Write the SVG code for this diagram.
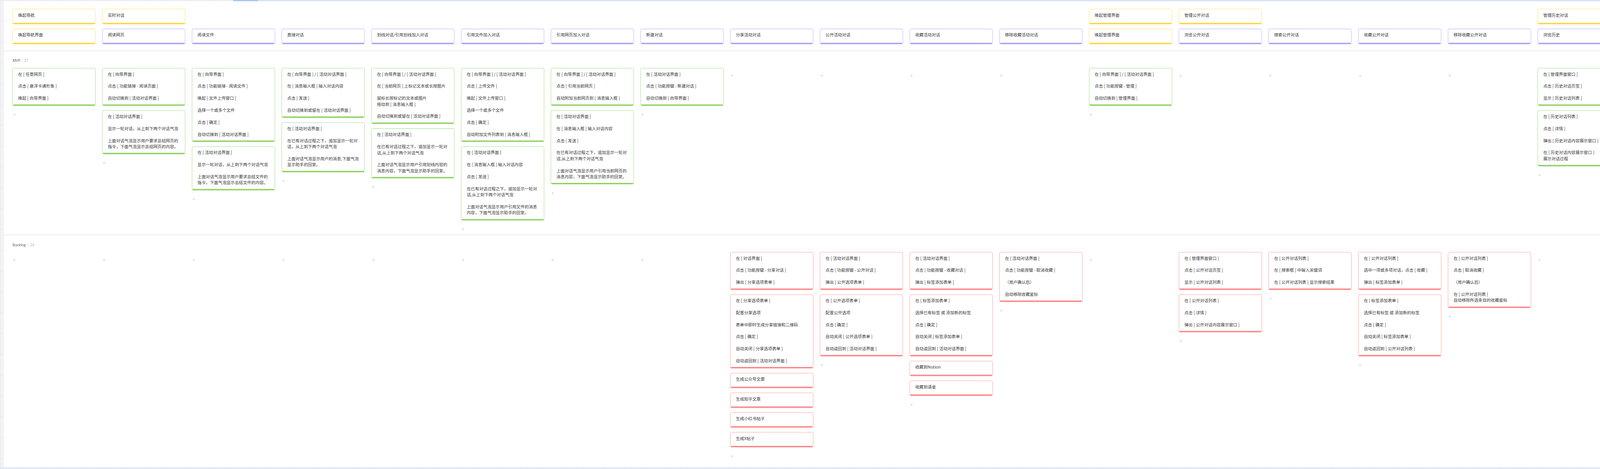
<svg xmlns="http://www.w3.org/2000/svg" width="6498" height="1200" viewBox="0 0 6498 1200">
<defs>
<style>
.cd rect{fill:#fff;stroke-width:1.3}
.cd line{stroke-width:3;stroke-linecap:round}
.y rect{stroke:#ffe78a}.y line{stroke:#ffd23a}
.p rect{stroke:#cbc4ff}.p line{stroke:#a89ef7}
.g rect{stroke:#b9e4a3}.g line{stroke:#8bd15c}
.r rect{stroke:#ffb4b4}.r line{stroke:#ff8282}
text{font-family:"Noto Sans CJK SC","Noto Sans",sans-serif;font-size:10.6px;fill:#3b3b3b}
.lab{font-family:"Open Sans","Noto Sans",sans-serif;font-size:9.5px;fill:#555}
.cnt{font-family:"Open Sans","Noto Sans",sans-serif;font-size:9.5px;fill:#aaa}
.sep{stroke:#ebebeb;stroke-width:2}
</style>
<pattern id="grid" width="53.3" height="53.3" patternUnits="userSpaceOnUse">
<path d="M0 0.5H53.3M0.5 0V53.3" fill="none" stroke="#e4e6e9" stroke-width="1"/>
</pattern>
<symbol id="plus" overflow="visible"><path d="M-3.5 0H3.5M0 -3.5V3.5" stroke="#cdcdcd" stroke-width="1" fill="none"/></symbol>
</defs>
<rect width="6498" height="1200" fill="#f2f3f5"/>
<rect width="6498" height="1200" fill="url(#grid)"/>
<rect x="10" y="3" width="6454" height="1193" fill="#fff"/>
<rect x="597" y="0.8" width="64" height="2" fill="#8db4f4"/>
<rect x="661" y="0.8" width="5803" height="2" fill="#cfdffb"/>
<line x1="6465" y1="0" x2="6465" y2="1200" stroke="#d3dcea" stroke-width="1.2"/>
<rect x="0" y="1196" width="6498" height="2.5" fill="#d5e3fb"/>
<line class="sep" x1="10" y1="130" x2="6464" y2="130"/>
<line class="sep" x1="10" y1="601" x2="6464" y2="601"/>
<line x1="4519" y1="998" x2="6498" y2="998" stroke="#3b82f6" stroke-width="2.5"/>

<g id="lane-mvp">
<text class="lab" x="32.3" y="157.5">MVP</text><line x1="56.5" y1="149" x2="56.5" y2="160" stroke="#ddd"/><text class="cnt" x="61.5" y="157.5">27</text>
</g>
<g id="lane-backlog">
<text class="lab" x="32" y="629.5">Backlog</text><line x1="72" y1="621" x2="72" y2="632" stroke="#ddd"/><text class="cnt" x="77" y="629.5">24</text>
</g>

<g id="connectors"></g>

<g id="h1-0" class="cd y" transform="translate(32.3,23.2)"><rect width="212" height="38.5" rx="4"/><line x1="2.5" x2="209.5" y1="36.9" y2="36.9"/><text x="14" y="19.4">唤起导航</text></g>
<g id="h1-1" class="cd y" transform="translate(262,23.2)"><rect width="212" height="38.5" rx="4"/><line x1="2.5" x2="209.5" y1="36.9" y2="36.9"/><text x="14" y="19.4">实时对话</text></g>
<g id="h1-12" class="cd y" transform="translate(2788.3,23.2)"><rect width="212" height="38.5" rx="4"/><line x1="2.5" x2="209.5" y1="36.9" y2="36.9"/><text x="14" y="19.4">唤起管理界面</text></g>
<g id="h1-13" class="cd y" transform="translate(3018,23.2)"><rect width="212" height="38.5" rx="4"/><line x1="2.5" x2="209.5" y1="36.9" y2="36.9"/><text x="14" y="19.4">管理公开对话</text></g>
<g id="h1-17" class="cd y" transform="translate(3936.7,23.2)"><rect width="212" height="38.5" rx="4"/><line x1="2.5" x2="209.5" y1="36.9" y2="36.9"/><text x="14" y="19.4">管理历史对话</text></g>
<g id="h1-23" class="cd y" transform="translate(5314.7,23.2)"><rect width="212" height="38.5" rx="4"/><line x1="2.5" x2="209.5" y1="36.9" y2="36.9"/><text x="14" y="19.4">管理收藏对话</text></g>
<g id="h1-26" class="cd y" transform="translate(6003.7,23.2)"><rect width="212" height="38.5" rx="4"/><line x1="2.5" x2="209.5" y1="36.9" y2="36.9"/><text x="14" y="19.4">管理选项配置</text></g>

<g id="h2-0" class="cd y" transform="translate(32.3,74)"><rect width="212" height="38.5" rx="4"/><line x1="2.5" x2="209.5" y1="36.9" y2="36.9"/><text x="14" y="19.3">唤起导航界面</text></g>
<g id="h2-1" class="cd p" transform="translate(262,74)"><rect width="212" height="38.5" rx="4"/><line x1="2.5" x2="209.5" y1="36.9" y2="36.9"/><text x="14" y="19.3">阅读网页</text></g>
<g id="h2-2" class="cd p" transform="translate(491.6,74)"><rect width="212" height="38.5" rx="4"/><line x1="2.5" x2="209.5" y1="36.9" y2="36.9"/><text x="14" y="19.3">阅读文件</text></g>
<g id="h2-3" class="cd p" transform="translate(721.3,74)"><rect width="212" height="38.5" rx="4"/><line x1="2.5" x2="209.5" y1="36.9" y2="36.9"/><text x="14" y="19.3">直接对话</text></g>
<g id="h2-4" class="cd p" transform="translate(951,74)"><rect width="212" height="38.5" rx="4"/><line x1="2.5" x2="209.5" y1="36.9" y2="36.9"/><text x="14" y="19.3">划线对话/引用划线加入对话</text></g>
<g id="h2-5" class="cd p" transform="translate(1180.7,74)"><rect width="212" height="38.5" rx="4"/><line x1="2.5" x2="209.5" y1="36.9" y2="36.9"/><text x="14" y="19.3">引用文件加入对话</text></g>
<g id="h2-6" class="cd p" transform="translate(1410.3,74)"><rect width="212" height="38.5" rx="4"/><line x1="2.5" x2="209.5" y1="36.9" y2="36.9"/><text x="14" y="19.3">引用网页加入对话</text></g>
<g id="h2-7" class="cd p" transform="translate(1640,74)"><rect width="212" height="38.5" rx="4"/><line x1="2.5" x2="209.5" y1="36.9" y2="36.9"/><text x="14" y="19.3">新建对话</text></g>
<g id="h2-8" class="cd p" transform="translate(1869.7,74)"><rect width="212" height="38.5" rx="4"/><line x1="2.5" x2="209.5" y1="36.9" y2="36.9"/><text x="14" y="19.3">分享活动对话</text></g>
<g id="h2-9" class="cd p" transform="translate(2099.3,74)"><rect width="212" height="38.5" rx="4"/><line x1="2.5" x2="209.5" y1="36.9" y2="36.9"/><text x="14" y="19.3">公开活动对话</text></g>
<g id="h2-10" class="cd p" transform="translate(2329,74)"><rect width="212" height="38.5" rx="4"/><line x1="2.5" x2="209.5" y1="36.9" y2="36.9"/><text x="14" y="19.3">收藏活动对话</text></g>
<g id="h2-11" class="cd p" transform="translate(2558.7,74)"><rect width="212" height="38.5" rx="4"/><line x1="2.5" x2="209.5" y1="36.9" y2="36.9"/><text x="14" y="19.3">移除收藏活动对话</text></g>
<g id="h2-12" class="cd y" transform="translate(2788.3,74)"><rect width="212" height="38.5" rx="4"/><line x1="2.5" x2="209.5" y1="36.9" y2="36.9"/><text x="14" y="19.3">唤起管理界面</text></g>
<g id="h2-13" class="cd p" transform="translate(3018,74)"><rect width="212" height="38.5" rx="4"/><line x1="2.5" x2="209.5" y1="36.9" y2="36.9"/><text x="14" y="19.3">浏览公开对话</text></g>
<g id="h2-14" class="cd p" transform="translate(3247.7,74)"><rect width="212" height="38.5" rx="4"/><line x1="2.5" x2="209.5" y1="36.9" y2="36.9"/><text x="14" y="19.3">搜索公开对话</text></g>
<g id="h2-15" class="cd p" transform="translate(3477.4,74)"><rect width="212" height="38.5" rx="4"/><line x1="2.5" x2="209.5" y1="36.9" y2="36.9"/><text x="14" y="19.3">收藏公开对话</text></g>
<g id="h2-16" class="cd p" transform="translate(3707,74)"><rect width="212" height="38.5" rx="4"/><line x1="2.5" x2="209.5" y1="36.9" y2="36.9"/><text x="14" y="19.3">移除收藏公开对话</text></g>
<g id="h2-17" class="cd p" transform="translate(3936.7,74)"><rect width="212" height="38.5" rx="4"/><line x1="2.5" x2="209.5" y1="36.9" y2="36.9"/><text x="14" y="19.3">浏览历史</text></g>
<g id="h2-18" class="cd p" transform="translate(4166.4,74)"><rect width="212" height="38.5" rx="4"/><line x1="2.5" x2="209.5" y1="36.9" y2="36.9"/><text x="14" y="19.3">回忆历史</text></g>
<g id="h2-19" class="cd p" transform="translate(4396,74)"><rect width="212" height="38.5" rx="4"/><line x1="2.5" x2="209.5" y1="36.9" y2="36.9"/><text x="14" y="19.3">删除历史</text></g>
<g id="h2-20" class="cd p" transform="translate(4625.7,74)"><rect width="212" height="38.5" rx="4"/><line x1="2.5" x2="209.5" y1="36.9" y2="36.9"/><text x="14" y="19.3">收藏对话</text></g>
<g id="h2-21" class="cd p" transform="translate(4855.4,74)"><rect width="212" height="38.5" rx="4"/><line x1="2.5" x2="209.5" y1="36.9" y2="36.9"/><text x="14" y="19.3">移除收藏历史对话</text></g>
<g id="h2-22" class="cd p" transform="translate(5085,74)"><rect width="212" height="38.5" rx="4"/><line x1="2.5" x2="209.5" y1="36.9" y2="36.9"/><text x="14" y="19.3">继续对话</text></g>
<g id="h2-23" class="cd p" transform="translate(5314.7,74)"><rect width="212" height="38.5" rx="4"/><line x1="2.5" x2="209.5" y1="36.9" y2="36.9"/><text x="14" y="19.3">查看收藏</text></g>
<g id="h2-24" class="cd p" transform="translate(5544.4,74)"><rect width="212" height="38.5" rx="4"/><line x1="2.5" x2="209.5" y1="36.9" y2="36.9"/><text x="14" y="19.3">搜索收藏</text></g>
<g id="h2-25" class="cd p" transform="translate(5774.1,74)"><rect width="212" height="38.5" rx="4"/><line x1="2.5" x2="209.5" y1="36.9" y2="36.9"/><text x="14" y="19.3">移除收藏</text></g>
<g id="h2-26" class="cd p" transform="translate(6003.7,74)"><rect width="212" height="38.5" rx="4"/><line x1="2.5" x2="209.5" y1="36.9" y2="36.9"/><text x="14" y="19.3">查看配置</text></g>
<g id="h2-27" class="cd p" transform="translate(6233.4,74)"><rect width="212" height="38.5" rx="4"/><line x1="2.5" x2="209.5" y1="36.9" y2="36.9"/><text x="14" y="19.3">修改配置</text></g>

<g id="c0a" class="cd g" transform="translate(32.3,174.3)"><rect width="212" height="96" rx="4"/><line x1="2.5" x2="209.5" y1="94.4" y2="94.4"/><text><tspan x="14" y="19.3">在 [ 任意网页 ]</tspan><tspan x="14" y="50.1">点击 [ 悬浮卡通形象 ]</tspan><tspan x="14" y="80.9">唤起 [ 向导界面 ]</tspan></text></g>
<g id="c1a" class="cd g" transform="translate(262,174.3)"><rect width="212" height="96" rx="4"/><line x1="2.5" x2="209.5" y1="94.4" y2="94.4"/><text><tspan x="14" y="19.3">在 [ 向导界面 ]</tspan><tspan x="14" y="50.1">点击 [ 功能链接 - 阅读页面 ]</tspan><tspan x="14" y="80.9">自动切换到 [ 活动对话界面 ]</tspan></text></g>
<g id="c1b" class="cd g" transform="translate(262,282.8)"><rect width="212" height="111.4" rx="4"/><line x1="2.5" x2="209.5" y1="109.8" y2="109.8"/><text><tspan x="14" y="19.3">在 [ 活动对话界面 ]</tspan><tspan x="14" y="50.1">显示一轮对话，从上到下两个对话气泡</tspan><tspan x="14" y="80.9">上面对话气泡显示用户要求总结网页的</tspan><tspan x="14" y="96.3">指令，下面气泡显示总结网页的内容。</tspan></text></g>
<g id="c2a" class="cd g" transform="translate(491.6,174.3)"><rect width="212" height="188.4" rx="4"/><line x1="2.5" x2="209.5" y1="186.8" y2="186.8"/><text><tspan x="14" y="19.3">在 [ 向导界面 ]</tspan><tspan x="14" y="50.1">点击 [ 功能链接 - 阅读文件 ]</tspan><tspan x="14" y="80.9">唤起 [ 文件上传窗口 ]</tspan><tspan x="14" y="111.7">选择一个或多个文件</tspan><tspan x="14" y="142.5">点击 [ 确定 ]</tspan><tspan x="14" y="173.3">自动切换到 [ 活动对话界面 ]</tspan></text></g>
<g id="c2b" class="cd g" transform="translate(491.6,375.2)"><rect width="212" height="111.4" rx="4"/><line x1="2.5" x2="209.5" y1="109.8" y2="109.8"/><text><tspan x="14" y="19.3">在 [ 活动对话界面 ]</tspan><tspan x="14" y="50.1">显示一轮对话，从上到下两个对话气泡</tspan><tspan x="14" y="80.9">上面对话气泡显示用户要求总结文件的</tspan><tspan x="14" y="96.3">指令，下面气泡显示总结文件的内容。</tspan></text></g>
<g id="c3a" class="cd g" transform="translate(721.3,174.3)"><rect width="212" height="126.8" rx="4"/><line x1="2.5" x2="209.5" y1="125.2" y2="125.2"/><text><tspan x="14" y="19.3">在 [ 向导界面 ] / [ 活动对话界面 ]</tspan><tspan x="14" y="50.1">在 [ 消息输入框 ] 输入对话内容</tspan><tspan x="14" y="80.9">点击 [ 发送 ]</tspan><tspan x="14" y="111.7">自动切换到或留在 [ 活动对话界面 ]</tspan></text></g>
<g id="c3b" class="cd g" transform="translate(721.3,313.6)"><rect width="212" height="126.8" rx="4"/><line x1="2.5" x2="209.5" y1="125.2" y2="125.2"/><text><tspan x="14" y="19.3">在 [ 活动对话界面 ]</tspan><tspan x="14" y="50.1">在已有对话过程之下，追加显示一轮对</tspan><tspan x="14" y="65.5">话，从上到下两个对话气泡</tspan><tspan x="14" y="96.3">上面对话气泡显示用户的消息,下面气泡</tspan><tspan x="14" y="111.7">显示助手的回复。</tspan></text></g>
<g id="c4a" class="cd g" transform="translate(951,174.3)"><rect width="212" height="142.2" rx="4"/><line x1="2.5" x2="209.5" y1="140.6" y2="140.6"/><text><tspan x="14" y="19.3">在 [ 向导界面 ] / [ 活动对话界面 ]</tspan><tspan x="14" y="50.1">在 [ 当前网页 ] 上标记文本或长按图片</tspan><tspan x="14" y="80.9">鼠标长按标记的文本或图片</tspan><tspan x="14" y="96.3">拖动到 [ 消息输入框 ]</tspan><tspan x="14" y="127.1">自动切换到或留在 [ 活动对话界面 ]</tspan></text></g>
<g id="c4b" class="cd g" transform="translate(951,329)"><rect width="212" height="126.8" rx="4"/><line x1="2.5" x2="209.5" y1="125.2" y2="125.2"/><text><tspan x="14" y="19.3">在 [ 活动对话界面 ]</tspan><tspan x="14" y="50.1">在已有对话过程之下，追加显示一轮对</tspan><tspan x="14" y="65.5">话,从上到下两个对话气泡</tspan><tspan x="14" y="96.3">上面对话气泡显示用户引用划线内容的</tspan><tspan x="14" y="111.7">消息内容，下面气泡显示助手的回复。</tspan></text></g>
<g id="c5a" class="cd g" transform="translate(1180.7,174.3)"><rect width="212" height="188.4" rx="4"/><line x1="2.5" x2="209.5" y1="186.8" y2="186.8"/><text><tspan x="14" y="19.3">在 [ 向导界面 ] / [ 活动对话界面 ]</tspan><tspan x="14" y="50.1">点击 [ 上传文件 ]</tspan><tspan x="14" y="80.9">唤起 [ 文件上传窗口 ]</tspan><tspan x="14" y="111.7">选择一个或多个文件</tspan><tspan x="14" y="142.5">点击 [ 确定 ]</tspan><tspan x="14" y="173.3">自动附加文件列表到 [ 消息输入框 ]</tspan></text></g>
<g id="c5b" class="cd g" transform="translate(1180.7,375.2)"><rect width="212" height="188.4" rx="4"/><line x1="2.5" x2="209.5" y1="186.8" y2="186.8"/><text><tspan x="14" y="19.3">在 [ 活动对话界面 ]</tspan><tspan x="14" y="50.1">在 [ 消息输入框 ] 输入对话内容</tspan><tspan x="14" y="80.9">点击 [ 发送 ]</tspan><tspan x="14" y="111.7">在已有对话过程之下，追加显示一轮对</tspan><tspan x="14" y="127.1">话,从上到下两个对话气泡</tspan><tspan x="14" y="157.9">上面对话气泡显示用户引用文件的消息</tspan><tspan x="14" y="173.3">内容，下面气泡显示助手的回复。</tspan></text></g>
<g id="c6a" class="cd g" transform="translate(1410.3,174.3)"><rect width="212" height="96" rx="4"/><line x1="2.5" x2="209.5" y1="94.4" y2="94.4"/><text><tspan x="14" y="19.3">在 [ 向导界面 ] / [ 活动对话界面 ]</tspan><tspan x="14" y="50.1">点击 [ 引用当前网页 ]</tspan><tspan x="14" y="80.9">自动附加当前网页到 [ 消息输入框 ]</tspan></text></g>
<g id="c6b" class="cd g" transform="translate(1410.3,282.8)"><rect width="212" height="188.4" rx="4"/><line x1="2.5" x2="209.5" y1="186.8" y2="186.8"/><text><tspan x="14" y="19.3">在 [ 活动对话界面 ]</tspan><tspan x="14" y="50.1">在 [ 消息输入框 ] 输入对话内容</tspan><tspan x="14" y="80.9">点击 [ 发送 ]</tspan><tspan x="14" y="111.7">在已有对话过程之下，追加显示一轮对</tspan><tspan x="14" y="127.1">话,从上到下两个对话气泡</tspan><tspan x="14" y="157.9">上面对话气泡显示用户引用当前网页的</tspan><tspan x="14" y="173.3">消息内容，下面气泡显示助手的回复。</tspan></text></g>
<g id="c7a" class="cd g" transform="translate(1640,174.3)"><rect width="212" height="96" rx="4"/><line x1="2.5" x2="209.5" y1="94.4" y2="94.4"/><text><tspan x="14" y="19.3">在 [ 活动对话界面 ]</tspan><tspan x="14" y="50.1">点击 [ 功能按键 - 新建对话 ]</tspan><tspan x="14" y="80.9">自动切换到 [ 向导界面 ]</tspan></text></g>
<g id="c12a" class="cd g" transform="translate(2788.3,174.3)"><rect width="212" height="96" rx="4"/><line x1="2.5" x2="209.5" y1="94.4" y2="94.4"/><text><tspan x="14" y="19.3">在 [ 向导界面 ] / [ 活动对话界面 ]</tspan><tspan x="14" y="50.1">点击 [ 功能按键 - 管理 ]</tspan><tspan x="14" y="80.9">自动切换到 [ 管理界面 ]</tspan></text></g>
<g id="c17a" class="cd g" transform="translate(3936.7,174.3)"><rect width="212" height="96" rx="4"/><line x1="2.5" x2="209.5" y1="94.4" y2="94.4"/><text><tspan x="14" y="19.3">在 [ 管理界面窗口 ]</tspan><tspan x="14" y="50.1">点击 [ 历史对话页签 ]</tspan><tspan x="14" y="80.9">显示 [ 历史对话列表 ]</tspan></text></g>
<g id="c17b" class="cd g" transform="translate(3936.7,282.8)"><rect width="212" height="142.2" rx="4"/><line x1="2.5" x2="209.5" y1="140.6" y2="140.6"/><text><tspan x="14" y="19.3">在 [ 历史对话列表 ]</tspan><tspan x="14" y="50.1">点击 [ 详情 ]</tspan><tspan x="14" y="80.9">弹出 [ 历史对话内容展示窗口 ]</tspan><tspan x="14" y="111.7">在 [ 历史对话内容展示窗口 ]</tspan><tspan x="14" y="127.1">展示对话过程</tspan></text></g>
<g id="c18a" class="cd g" transform="translate(4166.4,174.3)"><rect width="212" height="96" rx="4"/><line x1="2.5" x2="209.5" y1="94.4" y2="94.4"/><text><tspan x="14" y="19.3">在 [ 历史对话列表 ]</tspan><tspan x="14" y="50.1">在 [ 搜索框 ] 中输入关键词</tspan><tspan x="14" y="80.9">在 [ 历史对话列表 ] 显示搜索结果</tspan></text></g>
<g id="c19a" class="cd g" transform="translate(4396,174.3)"><rect width="212" height="126.8" rx="4"/><line x1="2.5" x2="209.5" y1="125.2" y2="125.2"/><text><tspan x="14" y="19.3">在 [ 历史对话列表 ]</tspan><tspan x="14" y="50.1">选中一项或多项历史，点击 [ 删除 ]</tspan><tspan x="14" y="80.9">（用户确认后）</tspan><tspan x="14" y="111.7">在 [ 历史对话列表 ] 自动移除所选条目</tspan></text></g>
<g id="c20a" class="cd g" transform="translate(4625.7,174.3)"><rect width="212" height="96" rx="4"/><line x1="2.5" x2="209.5" y1="94.4" y2="94.4"/><text><tspan x="14" y="19.3">在 [ 历史对话列表 ]</tspan><tspan x="14" y="50.1">选中一项或多项历史，点击 [ 收藏 ]</tspan><tspan x="14" y="80.9">弹出 [ 标签添加表单 ]</tspan></text></g>
<g id="c20b" class="cd g" transform="translate(4625.7,282.8)"><rect width="212" height="157.6" rx="4"/><line x1="2.5" x2="209.5" y1="156" y2="156"/><text><tspan x="14" y="19.3">在 [ 标签添加表单 ]</tspan><tspan x="14" y="50.1">选择已有标签 或 添加新的标签</tspan><tspan x="14" y="80.9">点击 [ 确定 ]</tspan><tspan x="14" y="111.7">自动关闭 [ 标签添加表单 ]</tspan><tspan x="14" y="142.5">自动返回到 [ 历史对话列表 ]</tspan></text></g>
<g id="c21a" class="cd g" transform="translate(4855.4,174.3)"><rect width="212" height="142.2" rx="4"/><line x1="2.5" x2="209.5" y1="140.6" y2="140.6"/><text><tspan x="14" y="19.3">在 [ 历史对话列表 ]</tspan><tspan x="14" y="50.1">选中一或多项历史，点击 [ 取消收藏 ]</tspan><tspan x="14" y="80.9">（用户确认后）</tspan><tspan x="14" y="111.7">在 [ 历史对话列表 ]</tspan><tspan x="14" y="127.1">自动移除所选条目的收藏星标</tspan></text></g>
<g id="c22a" class="cd g" transform="translate(5085,174.3)"><rect width="212" height="96" rx="4"/><line x1="2.5" x2="209.5" y1="94.4" y2="94.4"/><text><tspan x="14" y="19.3">在 [ 历史对话列表 ]</tspan><tspan x="14" y="50.1">选中一项历史，点击 [ 继续对话 ]</tspan><tspan x="14" y="80.9">自动切换到 [ 活动对话界面 ]</tspan></text></g>
<g id="c22b" class="cd g" transform="translate(5085,282.8)"><rect width="212" height="49.8" rx="4"/><line x1="2.5" x2="209.5" y1="48.2" y2="48.2"/><text><tspan x="14" y="19.3">在 [ 活动对话界面 ]</tspan><tspan x="14" y="34.7">展示所选要继续的历史对话过程</tspan></text></g>
<g id="c22c" class="cd g" transform="translate(5085,345.1)"><rect width="212" height="188.4" rx="4"/><line x1="2.5" x2="209.5" y1="186.8" y2="186.8"/><text><tspan x="14" y="19.3">在 [ 活动对话界面 ]</tspan><tspan x="14" y="50.1">在 [ 消息输入框 ] 输入对话内容</tspan><tspan x="14" y="80.9">点击 [ 发送 ]</tspan><tspan x="14" y="111.7">在历史对话过程之下，追加一轮对话,</tspan><tspan x="14" y="127.1">从上到下两个对话气泡</tspan><tspan x="14" y="157.9">上面对话气泡显示用户的消息,下面气泡</tspan><tspan x="14" y="173.3">显示助手的回复。</tspan></text></g>
<g id="c26a" class="cd g" transform="translate(6003.7,174.3)"><rect width="212" height="96" rx="4"/><line x1="2.5" x2="209.5" y1="94.4" y2="94.4"/><text><tspan x="14" y="19.3">在 [ 管理界面窗口 ]</tspan><tspan x="14" y="50.1">点击 [ 选项配置页签 ]</tspan><tspan x="14" y="80.9">显示 [ 选项配置表单 ]</tspan></text></g>
<g id="c27a" class="cd g" transform="translate(6233.4,174.3)"><rect width="212" height="96" rx="4"/><line x1="2.5" x2="209.5" y1="94.4" y2="94.4"/><text><tspan x="14" y="19.3">在 [ 选项配置表单 ]</tspan><tspan x="14" y="50.1">修改选项配置，点击 [ 应用 ]</tspan><tspan x="14" y="80.9">自动保存和生效最新选项配置</tspan></text></g>

<g id="b8a" class="cd r" transform="translate(1869.7,645.3)"><rect width="212" height="96" rx="4"/><line x1="2.5" x2="209.5" y1="94.4" y2="94.4"/><text><tspan x="14" y="19.3">在 [ 对话界面 ]</tspan><tspan x="14" y="50.1">点击 [ 功能按键 - 分享对话 ]</tspan><tspan x="14" y="80.9">弹出 [ 分享选项表单 ]</tspan></text></g>
<g id="b8b" class="cd r" transform="translate(1869.7,753.8)"><rect width="212" height="188.4" rx="4"/><line x1="2.5" x2="209.5" y1="186.8" y2="186.8"/><text><tspan x="14" y="19.3">在 [ 分享选项表单 ]</tspan><tspan x="14" y="50.1">配置分享选项</tspan><tspan x="14" y="80.9">表单中即时生成分享链接和二维码</tspan><tspan x="14" y="111.7">点击 [ 确定 ]</tspan><tspan x="14" y="142.5">自动关闭 [ 分享选项表单 ]</tspan><tspan x="14" y="173.3">自动返回到 [ 活动对话界面 ]</tspan></text></g>
<g id="b8c" class="cd r" transform="translate(1869.7,954.7)"><rect width="212" height="38" rx="4"/><line x1="2.5" x2="209.5" y1="36.4" y2="36.4"/><text x="14" y="19.5">生成公众号文章</text></g>
<g id="b8d" class="cd r" transform="translate(1869.7,1005.2)"><rect width="212" height="38" rx="4"/><line x1="2.5" x2="209.5" y1="36.4" y2="36.4"/><text x="14" y="19.5">生成知乎文章</text></g>
<g id="b8e" class="cd r" transform="translate(1869.7,1055.7)"><rect width="212" height="38" rx="4"/><line x1="2.5" x2="209.5" y1="36.4" y2="36.4"/><text x="14" y="19.5">生成小红书帖子</text></g>
<g id="b8f" class="cd r" transform="translate(1869.7,1106.2)"><rect width="212" height="38" rx="4"/><line x1="2.5" x2="209.5" y1="36.4" y2="36.4"/><text x="14" y="19.5">生成X帖子</text></g>
<g id="b9a" class="cd r" transform="translate(2099.3,645.3)"><rect width="212" height="96" rx="4"/><line x1="2.5" x2="209.5" y1="94.4" y2="94.4"/><text><tspan x="14" y="19.3">在 [ 活动对话界面 ]</tspan><tspan x="14" y="50.1">点击 [ 功能按键 - 公开对话 ]</tspan><tspan x="14" y="80.9">弹出 [ 公开选项表单 ]</tspan></text></g>
<g id="b9b" class="cd r" transform="translate(2099.3,753.8)"><rect width="212" height="157.6" rx="4"/><line x1="2.5" x2="209.5" y1="156" y2="156"/><text><tspan x="14" y="19.3">在 [ 公开选项表单 ]</tspan><tspan x="14" y="50.1">配置公开选项</tspan><tspan x="14" y="80.9">点击 [ 确定 ]</tspan><tspan x="14" y="111.7">自动关闭 [ 公开选项表单 ]</tspan><tspan x="14" y="142.5">自动返回到 [ 活动对话界面 ]</tspan></text></g>
<g id="b10a" class="cd r" transform="translate(2329,645.3)"><rect width="212" height="96" rx="4"/><line x1="2.5" x2="209.5" y1="94.4" y2="94.4"/><text><tspan x="14" y="19.3">在 [ 活动对话界面 ]</tspan><tspan x="14" y="50.1">点击 [ 功能按键 - 收藏对话 ]</tspan><tspan x="14" y="80.9">弹出 [ 标签添加表单 ]</tspan></text></g>
<g id="b10b" class="cd r" transform="translate(2329,753.8)"><rect width="212" height="157.6" rx="4"/><line x1="2.5" x2="209.5" y1="156" y2="156"/><text><tspan x="14" y="19.3">在 [ 标签添加表单 ]</tspan><tspan x="14" y="50.1">选择已有标签 或 添加新的标签</tspan><tspan x="14" y="80.9">点击 [ 确定 ]</tspan><tspan x="14" y="111.7">自动关闭 [ 标签添加表单 ]</tspan><tspan x="14" y="142.5">自动返回到 [ 活动对话界面 ]</tspan></text></g>
<g id="b10c" class="cd r" transform="translate(2329,923.9)"><rect width="212" height="38" rx="4"/><line x1="2.5" x2="209.5" y1="36.4" y2="36.4"/><text x="14" y="19.5">收藏到Notion</text></g>
<g id="b10d" class="cd r" transform="translate(2329,974.4)"><rect width="212" height="38" rx="4"/><line x1="2.5" x2="209.5" y1="36.4" y2="36.4"/><text x="14" y="19.5">收藏到语雀</text></g>
<g id="b11a" class="cd r" transform="translate(2558.7,645.3)"><rect width="212" height="126.8" rx="4"/><line x1="2.5" x2="209.5" y1="125.2" y2="125.2"/><text><tspan x="14" y="19.3">在 [ 活动对话界面 ]</tspan><tspan x="14" y="50.1">点击 [ 功能按键 - 取消收藏 ]</tspan><tspan x="14" y="80.9">（用户确认后）</tspan><tspan x="14" y="111.7">自动移除收藏星标</tspan></text></g>
<g id="b13a" class="cd r" transform="translate(3018,645.3)"><rect width="212" height="96" rx="4"/><line x1="2.5" x2="209.5" y1="94.4" y2="94.4"/><text><tspan x="14" y="19.3">在 [ 管理界面窗口 ]</tspan><tspan x="14" y="50.1">点击 [ 公开对话页签 ]</tspan><tspan x="14" y="80.9">显示 [ 公开对话列表 ]</tspan></text></g>
<g id="b13b" class="cd r" transform="translate(3018,753.8)"><rect width="212" height="96" rx="4"/><line x1="2.5" x2="209.5" y1="94.4" y2="94.4"/><text><tspan x="14" y="19.3">在 [ 公开对话列表 ]</tspan><tspan x="14" y="50.1">点击 [ 详情 ]</tspan><tspan x="14" y="80.9">弹出 [ 公开对话内容展示窗口 ]</tspan></text></g>
<g id="b14a" class="cd r" transform="translate(3247.7,645.3)"><rect width="212" height="96" rx="4"/><line x1="2.5" x2="209.5" y1="94.4" y2="94.4"/><text><tspan x="14" y="19.3">在 [ 公开对话列表 ]</tspan><tspan x="14" y="50.1">在 [ 搜索框 ] 中输入关键词</tspan><tspan x="14" y="80.9">在 [ 公开对话列表 ] 显示搜索结果</tspan></text></g>
<g id="b15a" class="cd r" transform="translate(3477.4,645.3)"><rect width="212" height="96" rx="4"/><line x1="2.5" x2="209.5" y1="94.4" y2="94.4"/><text><tspan x="14" y="19.3">在 [ 公开对话列表 ]</tspan><tspan x="14" y="50.1">选中一项或多项对话，点击 [ 收藏 ]</tspan><tspan x="14" y="80.9">弹出 [ 标签添加表单 ]</tspan></text></g>
<g id="b15b" class="cd r" transform="translate(3477.4,753.8)"><rect width="212" height="157.6" rx="4"/><line x1="2.5" x2="209.5" y1="156" y2="156"/><text><tspan x="14" y="19.3">在 [ 标签添加表单 ]</tspan><tspan x="14" y="50.1">选择已有标签 或 添加新的标签</tspan><tspan x="14" y="80.9">点击 [ 确定 ]</tspan><tspan x="14" y="111.7">自动关闭 [ 标签添加表单 ]</tspan><tspan x="14" y="142.5">自动返回到 [ 公开对话列表 ]</tspan></text></g>
<g id="b16a" class="cd r" transform="translate(3707,645.3)"><rect width="212" height="142.2" rx="4"/><line x1="2.5" x2="209.5" y1="140.6" y2="140.6"/><text><tspan x="14" y="19.3">在 [ 公开对话列表 ]</tspan><tspan x="14" y="50.1">点击 [ 取消收藏 ]</tspan><tspan x="14" y="80.9">（用户确认后）</tspan><tspan x="14" y="111.7">在 [ 公开对话列表 ]</tspan><tspan x="14" y="127.1">自动移除所选条目的收藏星标</tspan></text></g>
<g id="b23a" class="cd r" transform="translate(5314.7,645.3)"><rect width="212" height="96" rx="4"/><line x1="2.5" x2="209.5" y1="94.4" y2="94.4"/><text><tspan x="14" y="19.3">在 [ 管理界面窗口 ]</tspan><tspan x="14" y="50.1">点击 [ 收藏对话页签 ]</tspan><tspan x="14" y="80.9">显示 [ 收藏对话列表 ]</tspan></text></g>
<g id="b23b" class="cd r" transform="translate(5314.7,753.8)"><rect width="212" height="96" rx="4"/><line x1="2.5" x2="209.5" y1="94.4" y2="94.4"/><text><tspan x="14" y="19.3">在 [ 收藏对话列表 ]</tspan><tspan x="14" y="50.1">点击 [ 详情 ]</tspan><tspan x="14" y="80.9">弹出 [ 收藏对话内容展示窗口 ]</tspan></text></g>
<g id="b23c" class="cd r" transform="translate(5314.7,862.3)"><rect width="212" height="49.8" rx="4"/><line x1="2.5" x2="209.5" y1="48.2" y2="48.2"/><text><tspan x="14" y="19.3">在 [ 收藏对话内容展示窗口 ]</tspan><tspan x="14" y="34.7">展示对话过程</tspan></text></g>
<g id="b24a" class="cd r" transform="translate(5544.4,645.3)"><rect width="212" height="96" rx="4"/><line x1="2.5" x2="209.5" y1="94.4" y2="94.4"/><text><tspan x="14" y="19.3">在 [ 收藏对话列表 ]</tspan><tspan x="14" y="50.1">在 [ 搜索框 ] 中输入关键词</tspan><tspan x="14" y="80.9">在 [ 收藏对话列表 ] 显示搜索结果</tspan></text></g>
<g id="b25a" class="cd r" transform="translate(5774.1,645.3)"><rect width="212" height="126.8" rx="4"/><line x1="2.5" x2="209.5" y1="125.2" y2="125.2"/><text><tspan x="14" y="19.3">在 [ 收藏对话列表 ]</tspan><tspan x="14" y="50.1">选中一项或多项历史，点击 [ 删除 ]</tspan><tspan x="14" y="80.9">（用户确认后）</tspan><tspan x="14" y="111.7">在 [ 收藏对话列表 ] 自动移除所选条目</tspan></text></g>

<g id="add-mvp">
<use href="#plus" x="36.8" y="293.3"/><use href="#plus" x="266.5" y="417.2"/><use href="#plus" x="496.1" y="509.6"/><use href="#plus" x="725.8" y="463.4"/><use href="#plus" x="955.5" y="478.8"/><use href="#plus" x="1185.2" y="586.6"/><use href="#plus" x="1414.8" y="494.2"/><use href="#plus" x="1644.5" y="293.3"/><use href="#plus" x="1874.2" y="193.6"/><use href="#plus" x="2103.8" y="193.6"/><use href="#plus" x="2333.5" y="193.6"/><use href="#plus" x="2563.2" y="193.6"/><use href="#plus" x="2792.8" y="293.3"/><use href="#plus" x="3022.5" y="193.6"/><use href="#plus" x="3252.2" y="193.6"/><use href="#plus" x="3481.9" y="193.6"/><use href="#plus" x="3711.5" y="193.6"/><use href="#plus" x="3941.2" y="448"/><use href="#plus" x="4170.9" y="293.3"/><use href="#plus" x="4400.5" y="324.1"/><use href="#plus" x="4630.2" y="463.4"/><use href="#plus" x="4859.9" y="339.5"/><use href="#plus" x="5089.5" y="556.5"/><use href="#plus" x="5319.2" y="193.6"/><use href="#plus" x="5548.9" y="193.6"/><use href="#plus" x="5778.6" y="193.6"/><use href="#plus" x="6008.2" y="293.3"/><use href="#plus" x="6237.9" y="293.3"/>
</g>
<g id="add-backlog">
<use href="#plus" x="36.8" y="665"/><use href="#plus" x="266.5" y="665"/><use href="#plus" x="496.1" y="665"/><use href="#plus" x="725.8" y="665"/><use href="#plus" x="955.5" y="665"/><use href="#plus" x="1185.2" y="665"/><use href="#plus" x="1414.8" y="665"/><use href="#plus" x="1644.5" y="665"/><use href="#plus" x="1874.2" y="1167.2"/><use href="#plus" x="2103.8" y="934.4"/><use href="#plus" x="2333.5" y="1035.4"/><use href="#plus" x="2563.2" y="795.1"/><use href="#plus" x="2792.8" y="665"/><use href="#plus" x="3022.5" y="872.8"/><use href="#plus" x="3252.2" y="764.3"/><use href="#plus" x="3481.9" y="934.4"/><use href="#plus" x="3711.5" y="810.5"/><use href="#plus" x="3941.2" y="665"/><use href="#plus" x="4170.9" y="665"/><use href="#plus" x="4400.5" y="665"/><use href="#plus" x="4630.2" y="665"/><use href="#plus" x="4859.9" y="665"/><use href="#plus" x="5089.5" y="665"/><use href="#plus" x="5319.2" y="935.1"/><use href="#plus" x="5548.9" y="764.3"/><use href="#plus" x="5778.6" y="795.1"/><use href="#plus" x="6008.2" y="665"/><use href="#plus" x="6237.9" y="665"/>
</g>
</svg>
